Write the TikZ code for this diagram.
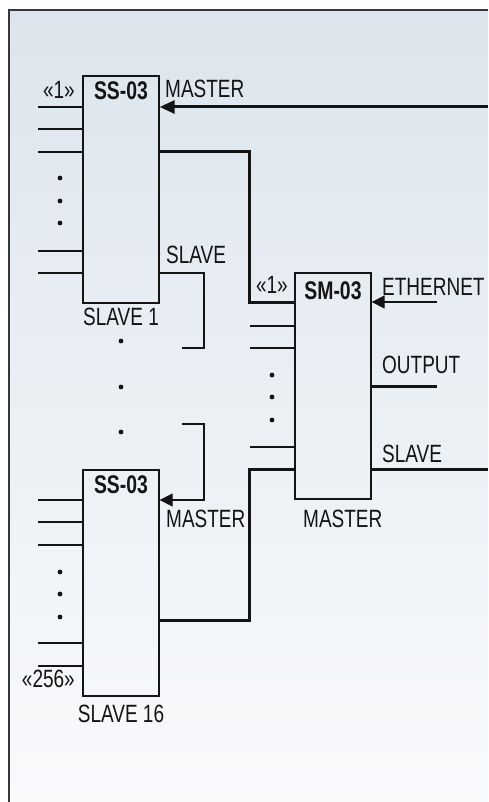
\documentclass[tikz,border=0pt]{standalone}
\usepackage{fontspec}
\setmainfont{Liberation Sans}[FakeStretch=0.76]
\usetikzlibrary{arrows.meta}
\definecolor{bgtop}{RGB}{220,229,237}
\definecolor{bgbot}{RGB}{249,250,252}
\definecolor{ink}{RGB}{20,20,20}
\tikzset{
  unit/.style={draw=ink,line width=1.3pt,minimum width=76pt,inner sep=0pt},
  sig/.style={draw=ink,line width=1.3pt},
  bus/.style={draw=ink,line width=3pt},
  lbl/.style={font=\fontsize{25}{27}\selectfont,text=ink,inner sep=0pt},
  ttl/.style={lbl,font=\fontsize{25.5}{27}\selectfont\bfseries},
  tip/.tip={Triangle[length=13pt,width=13pt]}
}
\begin{document}
\begin{tikzpicture}[x=1pt,y=-1pt]
\useasboundingbox (0,0) rectangle (488,802);
\fill[top color=bgtop,bottom color=bgbot] (9,10) rectangle (488,802);
\draw[line width=1.5pt,color=ink!85] (488,10)--(9,10)--(9,802);
\node[unit,minimum height=227pt] (ss1) at (121,189.5) {};
\node[unit,minimum height=226pt] (ss2) at (121,583) {};
\node[unit,minimum height=226pt] (sm) at (333,386) {};
\node[ttl,anchor=base] (ss1t) at (121,100) {SS-03};
\node[ttl,anchor=base] (ss2t) at (121,493) {SS-03};
\node[ttl,anchor=base] (smt) at (333,299) {SM-03};
\node[lbl,anchor=base east] (n1a) at (75,99) {«1»};
\node[lbl,anchor=base east] (n256) at (75,687) {«256»};
\node[lbl,anchor=base east] (n1b) at (288,293) {«1»};
\node[lbl,anchor=base west] (mst1) at (165,98) {MASTER};
\node[lbl,anchor=base west] (slv1) at (166,263) {SLAVE};
\node[lbl,anchor=base] (nm1) at (121,325) {SLAVE 1};
\node[lbl,anchor=base west] (mst2) at (166,527) {MASTER};
\node[lbl,anchor=base] (nm2) at (121,722) {SLAVE 16};
\node[lbl,anchor=base west] (eth) at (382,295) {ETHERNET};
\node[lbl,anchor=base west] (out) at (382,373) {OUTPUT};
\node[lbl,anchor=base west] (slv2) at (382,462) {SLAVE};
\node[lbl,anchor=base west] (nm3) at (303,527) {MASTER};
\coordinate (mIn) at (488,107);
\coordinate (ethIn) at (437,302);
\coordinate (outEnd) at (437,386);
\coordinate (slvEnd) at (488,469);
\foreach \y in {107,129,152,251,273} \draw[sig] (38,\y)--(ss1.west |- 0,\y);
\foreach \y in {500,522,545,643,666} \draw[sig] (38,\y)--(ss2.west |- 0,\y);
\foreach \y in {326,348,447} \draw[sig] (250,\y)--(sm.west |- 0,\y);
\foreach \y in {178,201,223,572,594,617} \fill[ink] (60,\y) circle(2.4pt);
\foreach \y in {375,397,420} \fill[ink] (272,\y) circle(2.4pt);
\foreach \y in {341,387,432} \fill[ink] (121,\y) circle(2.4pt);
\draw[bus,-{Triangle[length=15pt,width=13pt]}] (mIn)--(ss1.east |- mIn);
\draw[bus] (ss1.east |- 0,152)--(249,152)|-(sm.west |- 0,302);
\draw[bus] (ss2.east |- 0,620)--(249,620)|-(sm.west |- slvEnd);
\draw[sig] (ss1.east |- 0,273)-|(204,348)--(182,348);
\draw[sig,-tip] (182,424)-|(204,500)--(ss2.east |- 0,500);
\draw[sig,-tip] (ethIn)--(sm.east |- ethIn);
\draw[bus] (sm.east |- outEnd)--(outEnd);
\draw[bus] (sm.east |- slvEnd)--(slvEnd);
\end{tikzpicture}
\end{document}
